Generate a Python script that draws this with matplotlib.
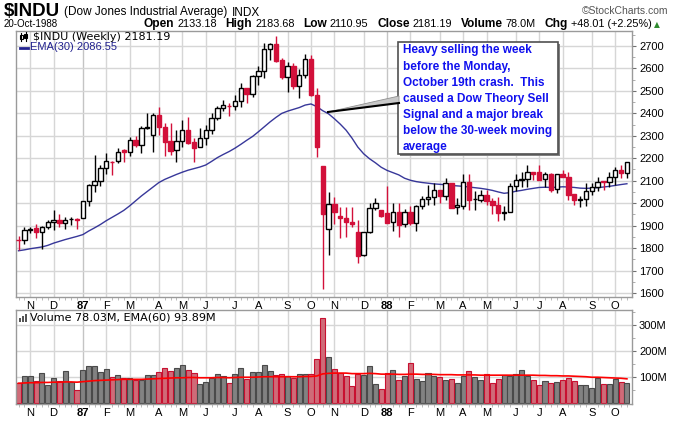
import numpy as np
import pandas as pd
import matplotlib
matplotlib.use("Agg")
import matplotlib.pyplot as plt
from matplotlib.patches import Rectangle, Polygon

# ---------------- data (weekly) ----------------
start_week = "1986-10-20"
prev_close_start = 1845

opens = [1836, 1834, 1880, 1888, 1871, 1896, 1914, 1926, 1911, 1928, 1929, 1934, 2008, 2079, 2098,
         2158, 2184, 2186, 2237, 2227, 2282, 2259, 2336, 2304, 2393, 2338, 2277, 2237, 2279, 2326,
         2271, 2249, 2292, 2326, 2378, 2426, 2433, 2433, 2455, 2511, 2485, 2568, 2590, 2685, 2707,
         2638, 2560, 2611, 2523, 2571, 2641, 2482, 2165, 1883, 1995, 1943, 1935, 1916, 1873, 1769,
         1870, 1977, 1970, 1955, 1914, 1959, 1907, 1962, 1910, 1988, 2017, 2029, 2059, 2034, 2089,
         1985, 1988, 2093, 2018, 2016, 2036, 2010, 1992, 1956, 1960, 2076, 2102, 2106, 2141, 2141,
         2106, 2130, 2062, 2130, 2118, 2041, 2016, 2019, 2056, 2071, 2100, 2093, 2115, 2148, 2133.18]
highs = [1852, 1894, 1896, 1908, 1897, 1923, 1971, 1953, 1938, 1938, 1935, 2010, 2087, 2216, 2170,
         2225, 2190, 2245, 2240, 2297, 2300, 2344, 2400, 2400, 2430, 2359, 2356, 2326, 2371, 2383,
         2289, 2334, 2349, 2403, 2433, 2460, 2448, 2482, 2537, 2511, 2570, 2612, 2712, 2712, 2745,
         2645, 2627, 2623, 2596, 2664, 2660, 2511, 2165, 2051, 2029, 1984, 1984, 1984, 1925, 1872,
         1999, 2024, 1970, 2078, 1999, 1999, 1973, 1988, 1992, 2032, 2081, 2092, 2059, 2111, 2089,
         2022, 2128, 2128, 2055, 2058, 2060, 2022, 2029, 1988, 2089, 2130, 2141, 2170, 2141, 2170,
         2141, 2133, 2130, 2148, 2141, 2041, 2034, 2089, 2089, 2115, 2100, 2141, 2163, 2170, 2183.68]
lows = [1793, 1819, 1867, 1846, 1797, 1886, 1879, 1894, 1885, 1901, 1883, 1932, 1986, 2050, 2075,
        2131, 2127, 2180, 2185, 2208, 2249, 2225, 2331, 2230, 2304, 2212, 2215, 2182, 2252, 2264,
        2185, 2249, 2259, 2307, 2371, 2412, 2390, 2415, 2430, 2445, 2474, 2526, 2556, 2638, 2627,
        2552, 2494, 2507, 2470, 2559, 2479, 2207, 1616, 1769, 1907, 1846, 1851, 1895, 1735, 1766,
        1866, 1970, 1940, 1913, 1877, 1848, 1893, 1903, 1878, 1973, 1992, 1992, 2000, 2014, 1977,
        1950, 1973, 1970, 1968, 2005, 1992, 1950, 1922, 1926, 1960, 2052, 2071, 2071, 2103, 2106,
        2071, 2051, 2047, 2118, 2014, 1992, 1982, 1989, 2037, 2056, 2059, 2074, 2081, 2111, 2110.95]
closes = [1834, 1879, 1886, 1871, 1896, 1914, 1926, 1911, 1926, 1930, 1927, 2008, 2079, 2098, 2158,
          2186, 2183, 2230, 2227, 2282, 2259, 2334, 2338, 2393, 2338, 2274, 2234, 2279, 2326, 2270,
          2245, 2292, 2326, 2378, 2423, 2438, 2432, 2455, 2511, 2485, 2568, 2590, 2685, 2707, 2635,
          2560, 2611, 2523, 2571, 2641, 2482, 2249, 1950, 1995, 1959, 1935, 1917, 1909, 1766, 1870,
          1977, 1999, 1943, 1913, 1959, 1903, 1962, 1910, 1988, 2017, 2029, 2059, 2034, 2089, 1977,
          1992, 2093, 2014, 2020, 2036, 2008, 1991, 1955, 1960, 2076, 2102, 2106, 2141, 2130, 2104,
          2130, 2058, 2130, 2118, 2037, 2014, 2019, 2056, 2071, 2096, 2093, 2115, 2148, 2133.18, 2181.19]
ema30 = [1788, 1792, 1797, 1801, 1805, 1812, 1822, 1830, 1838, 1845, 1852, 1860, 1876, 1890, 1905,
         1922, 1937, 1952, 1968, 1988, 2010, 2032, 2052, 2072, 2092, 2106, 2117, 2128, 2138, 2147,
         2154, 2161, 2170, 2186, 2203, 2217, 2230, 2245, 2262, 2280, 2297, 2318, 2340, 2362, 2382,
         2400, 2410, 2418, 2426, 2437, 2442, 2430, 2412, 2398, 2376, 2352, 2325, 2290, 2250, 2220,
         2198, 2180, 2160, 2146, 2136, 2126, 2111, 2102, 2096, 2092, 2089, 2086, 2084, 2082, 2079,
         2077, 2075, 2072, 2069, 2066, 2062, 2057, 2050, 2044, 2047, 2053, 2057, 2062, 2066, 2070,
         2071, 2070, 2071, 2073, 2072, 2070, 2067, 2066, 2067, 2069, 2072, 2075, 2079, 2083, 2086.55]
volume_m = [77, 106, 106, 86, 116, 71, 97, 86, 125, 80, 51, 127, 144, 144, 120,
            132, 101, 109, 97, 97, 90, 90, 109, 109, 122, 137, 125, 137, 148, 127,
            116, 74, 81, 96, 112, 106, 78, 112, 137, 94, 119, 119, 148, 125, 109,
            112, 104, 96, 112, 112, 112, 171, 328, 179, 132, 116, 106, 66, 112, 109,
            144, 74, 55, 116, 127, 90, 105, 155, 94, 86, 116, 105, 100, 90, 94,
            78, 106, 125, 101, 90, 112, 79, 94, 109, 103, 112, 127, 105, 90, 70,
            86, 78, 81, 90, 99, 86, 70, 70, 60, 96, 73, 73, 94, 81, 78.03]
vol_ema60 = [77, 78, 79, 79, 80, 80, 81, 81, 82, 82, 81, 83, 85, 87, 88,
             89, 90, 91, 92, 92, 92, 92, 93, 94, 95, 96, 97, 98, 98, 99,
             99, 98, 98, 98, 99, 99, 98, 99, 100, 100, 100, 101, 102, 102, 102,
             102, 102, 102, 102, 103, 103, 105, 113, 115, 116, 116, 116, 114, 114, 114,
             115, 114, 112, 112, 112, 111, 111, 112, 112, 111, 111, 111, 110, 110, 110,
             109, 109, 109, 109, 108, 108, 108, 108, 108, 108, 108, 108, 108, 108, 107,
             107, 106, 106, 105, 105, 104, 103, 102, 100, 100, 99, 98, 97, 96, 93.89]

price_ticks = [1600, 1700, 1800, 1900, 2000, 2100, 2200, 2300, 2400, 2500, 2600, 2700]
volume_ticks = [100, 200, 300]
volume_tick_labels = ["100M", "200M", "300M"]

note_text = ("Heavy selling the week\nbefore the Monday,\nOctober 19th crash.  This\n"
             "caused a Dow Theory Sell\nSignal and a major break\nbelow the 30-week moving\naverage")

# ---------------- styling ----------------
RED = "#d2103a"
NAVY = "#22228f"
GRID = "#d6d6d6"
FRAME = "#9a9a9a"
SANS = ["Liberation Sans", "DejaVu Sans"]
plt.rcParams["font.family"] = SANS

W, H = 680, 421
fig = plt.figure(figsize=(W / 100, H / 100), dpi=100)
fig.patch.set_facecolor("white")


def fx(px):
    return px / W


def fy(py):
    return 1 - py / H


n = len(closes)
xs = np.arange(n)
o = np.array(opens, float)
h = np.array(highs, float)
l = np.array(lows, float)
c = np.array(closes, float)
prev = np.r_[prev_close_start, c[:-1]]
down = c < prev

dates = pd.date_range(start_week, periods=n, freq="W-MON")
month_pos = [i for i, d in enumerate(dates) if d.day <= 7]
month_lab = [(d.strftime("%y") if d.month == 1 else d.strftime("%b")[0]) for d in dates[month_pos]]
year_pos = [p for p, d in zip(month_pos, dates[month_pos]) if d.month == 1]

XL = (-0.43, 104.87)

ax = fig.add_axes([fx(16), fy(297), fx(632) - fx(16), fy(31) - fy(297)])
axv = fig.add_axes([fx(16), fy(404), fx(632) - fx(16), fy(310) - fy(404)])

for a in (ax, axv):
    a.set_xlim(*XL)
    a.set_facecolor("white")
    for s in a.spines.values():
        s.set_color(FRAME)
        s.set_linewidth(1)
    a.yaxis.tick_right()
    a.set_xticks(month_pos)
    a.set_xticklabels(month_lab)
    for lab, d in zip(a.get_xticklabels(), dates[month_pos]):
        if d.month == 1:
            lab.set_fontweight("bold")
    a.set_xticks(xs, minor=True)
    a.tick_params(axis="x", which="major", length=0, labelsize=8, pad=3, colors="black")
    a.tick_params(axis="x", which="minor", length=2, color="#b0b0b0")
    a.tick_params(axis="y", which="major", length=3, labelsize=8, pad=2, color="#707070")
    a.tick_params(axis="y", which="minor", length=2, color="#a0a0a0")
    for p in month_pos:
        a.axvline(p, color="#c4c4c4" if p in year_pos else GRID, lw=1, zorder=0)

# ---- price panel ----
ax.set_ylim(1582, 2767)
ax.set_yticks(price_ticks)
ax.set_yticks(np.arange(1600, 2760, 50), minor=True)
for t in price_ticks:
    ax.axhline(t, color=GRID, lw=1, zorder=0)

ax.plot(xs, ema30, color=NAVY, lw=1.0, zorder=2, alpha=0.9)

bw = 0.74
for i in range(n):
    col = RED if down[i] else "black"
    ax.vlines(xs[i], l[i], h[i], color=col, lw=1, zorder=3)
    lo, hi = min(o[i], c[i]), max(o[i], c[i])
    hh = max(hi - lo, 1.2)
    if c[i] >= o[i]:
        ax.add_patch(Rectangle((xs[i] - bw / 2, lo), bw, hh, facecolor="white",
                               edgecolor=col, lw=1, zorder=4))
    else:
        ax.add_patch(Rectangle((xs[i] - bw / 2, lo), bw, hh, facecolor=col,
                               edgecolor=col, lw=1, zorder=4))

# panel legend
fig.text(fx(33), fy(36.5), "$INDU (Weekly) 2181.19", family="DejaVu Sans", fontsize=8,
         va="center", ha="left")
fig.text(fx(30), fy(47.5), "EMA(30) 2086.55", fontsize=8,
         va="center", ha="left", color=NAVY)
fig.add_artist(plt.Line2D([fx(19.5), fx(28.5)], [fy(47.5), fy(47.5)], color=NAVY, lw=2))
# tiny candlestick icon
for k, (yy0, yy1, b0, b1, filled) in enumerate([(33, 41, 35, 39, False), (32, 41, 34, 38, True)]):
    cx = 21 + k * 5
    fig.add_artist(plt.Line2D([fx(cx), fx(cx)], [fy(yy1), fy(yy0)], color="black", lw=0.8))
    fig.add_artist(Rectangle((fx(cx - 1.5), fy(b1)), fx(3), fy(b0) - fy(b1),
                             facecolor="black" if filled else "white", edgecolor="black", lw=0.8))

# annotation box with pointer
bx0, bx1, by0, by1 = 398, 558, 42, 154
fig.add_artist(Rectangle((fx(bx0 + 2), fy(by1 + 2)), fx(bx1 - bx0), fy(by0) - fy(by1),
                         facecolor="#808080", edgecolor="none", zorder=5))
fig.add_artist(Rectangle((fx(bx0), fy(by1)), fx(bx1 - bx0), fy(by0) - fy(by1),
                         facecolor="white", edgecolor="#505050", lw=1.2, zorder=6))
fig.text(fx(403), fy(44.5), note_text, color="#1010ee", fontsize=8.5, fontweight="bold",
         va="top", ha="left", linespacing=1.45, zorder=7)
tip = (fx(328), fy(112))
fig.add_artist(Polygon([tip, (fx(399), fy(96)), (fx(399), fy(103))], closed=True,
                       facecolor="#c8c8c8", edgecolor="#909090", lw=0.6, zorder=6))
fig.add_artist(plt.Line2D([tip[0], fx(399)], [tip[1], fy(103)], color="black", lw=1.5, zorder=6))

# ---- volume panel ----
axv.set_ylim(-3, 359)
axv.set_yticks(volume_ticks)
axv.set_yticklabels(volume_tick_labels)
axv.set_yticks(np.arange(50, 360, 50), minor=True)
for t in volume_ticks:
    axv.axhline(t, color=GRID, lw=1, zorder=0)
vfill = np.where(down, "#cf6b78", "#828282")
vedge = np.where(down, "#c81030", "#4a4a4a")
axv.bar(xs, volume_m, width=0.86, color=vfill, edgecolor=vedge, lw=0.8, zorder=2)
axv.plot(xs, vol_ema60, color="#ff0000", lw=1.2, zorder=3)
fig.text(fx(30), fy(318), "Volume 78.03M, EMA(60) 93.89M", family="DejaVu Sans",
         fontsize=8, va="center", ha="left")
for k, hgt in enumerate([4, 6, 8]):
    fig.add_artist(Rectangle((fx(19 + k * 3), fy(322)), fx(2), fy(322 - hgt) - fy(322),
                             facecolor="#555555", edgecolor="none"))

# ---- header ----
fig.canvas.draw()
r = fig.canvas.get_renderer()


def put(xpx, ypx, s, **kw):
    t = fig.text(fx(xpx), fy(ypx), s, va="baseline", ha="left", **kw)
    bb = t.get_window_extent(renderer=r)
    return xpx + bb.width


xe = put(4, 15.5, "$INDU", fontsize=13.5, fontweight="bold")
xe = put(xe + 4, 15.5, "(Dow Jones Industrial Average)", fontsize=8.5)
put(xe + 4, 15.5, "INDX", fontsize=8.5)
fig.text(fx(668), fy(14), "©StockCharts.com", va="baseline", ha="right", fontsize=7.5, color="#555555")
put(4, 27, "20-Oct-1988", fontsize=7)
xe = 144
for lab, val in [("Open", "2133.18"), ("High", "2183.68"), ("Low", "2110.95"),
                 ("Close", "2181.19"), ("Volume", "78.0M"), ("Chg", "+48.01 (+2.25%)")]:
    xe = put(xe, 27, lab, fontsize=8.6, fontweight="bold")
    xe = put(xe + 3, 27, val, fontsize=7.8)
    xe += 8.5
fig.text(fx(xe - 6), fy(27), "▲", va="baseline", ha="left", fontsize=5.5, color="#2e8b2e",
         family="DejaVu Sans")

fig.savefig("out.png", dpi=100)
